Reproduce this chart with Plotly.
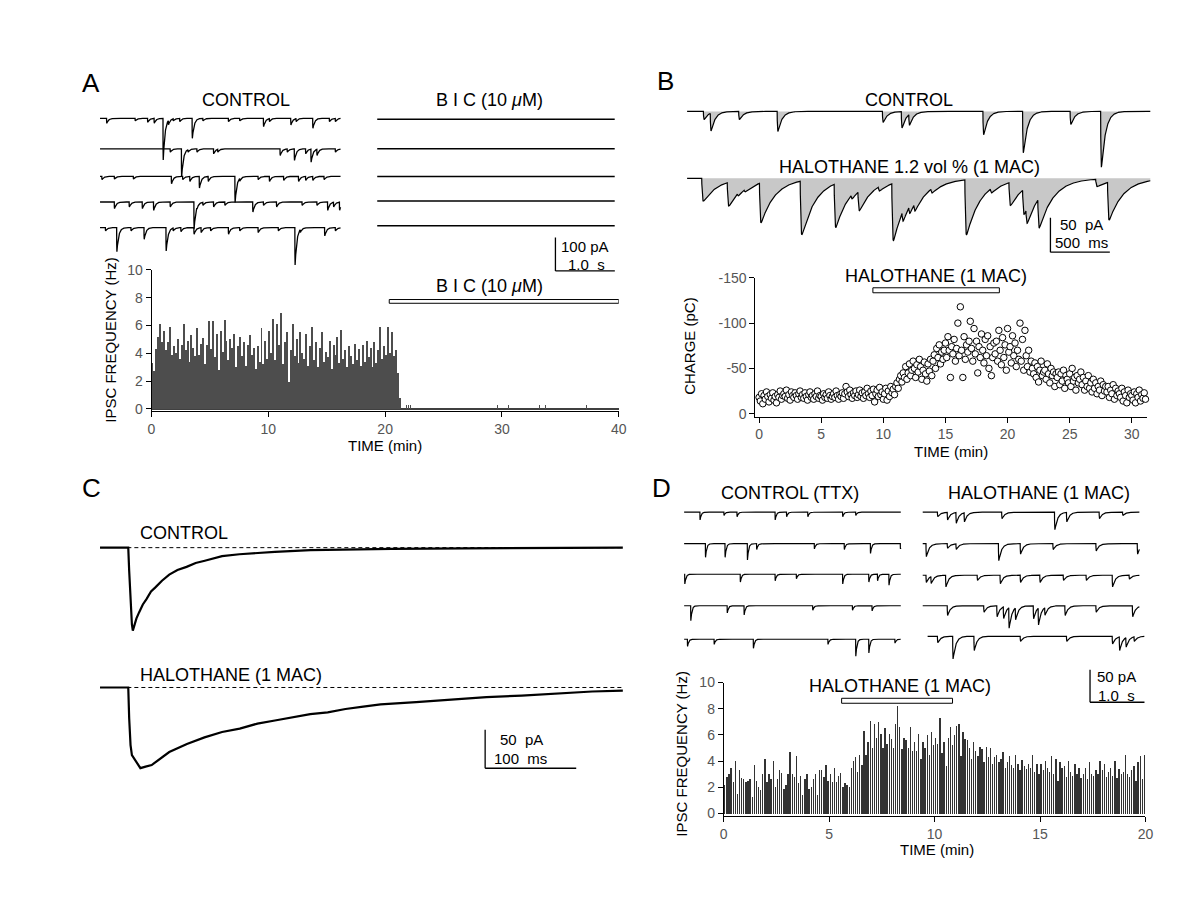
import numpy as np
import plotly.graph_objects as go

W, H = 1200, 919
FONT = "Liberation Sans, Arial, Helvetica, sans-serif"

# ======================= DATA =======================
# ---- Panel A: control sweeps, event times (s) and peak depths (pA)
a_ctrl_event_times = [
    [0.11, 0.59, 0.80, 0.91, 1.06, 1.15, 1.23, 1.34, 1.55, 1.73, 2.16, 2.35, 2.75, 2.85, 3.21, 3.30, 3.58, 3.86, 3.96],
    [1.18, 1.37, 1.48, 1.63, 1.91, 1.98, 3.03, 3.15, 3.27, 3.46, 3.55, 3.65, 3.96],
    [0.03, 0.24, 0.56, 1.20, 1.39, 1.51, 1.67, 1.82, 2.27, 2.35, 2.66, 2.85, 3.09, 3.34, 3.46, 3.58, 3.77],
    [0.24, 0.49, 0.71, 0.90, 1.18, 1.58, 1.63, 1.73, 1.91, 2.10, 2.57, 2.75, 2.97, 3.40, 3.65, 3.83, 3.93, 4.03],
    [0.09, 0.28, 0.52, 0.74, 1.11, 1.23, 1.36, 1.58, 1.70, 1.86, 2.16, 2.35, 2.66, 3.00, 3.28, 3.37, 3.78, 3.96],
]
a_ctrl_event_depths = [
    [15, 8, 12, 15, 125, 20, 8, 10, 60, 8, 10, 8, 25, 10, 20, 10, 30, 10, 10],
    [10, 84, 10, 10, 15, 10, 20, 10, 35, 15, 40, 20, 10],
    [10, 8, 8, 22, 10, 15, 35, 15, 78, 15, 10, 15, 12, 15, 12, 12, 10],
    [20, 15, 20, 25, 15, 80, 15, 10, 15, 10, 30, 10, 15, 10, 10, 25, 15, 25],
    [10, 72, 10, 35, 70, 10, 12, 20, 15, 10, 20, 10, 15, 10, 112, 15, 25, 10],
]
a_ctrl_sweep_s = 4.05
a_bic_sweep_s = 4.0
a_bic_event_times = [[], [], [], [], []]
a_bic_event_depths = [[], [], [], [], []]

a_hist_bin_min = 1.0 / 6.0
a_hist_rates = [
    3.3, 2.7, 4.3, 5.2, 6.1, 4.8,
    5.6, 4.2, 4.8, 5.9, 3.9, 4.5,
    4.0, 5.0, 3.6, 4.6, 6.1, 4.2,
    4.9, 3.4, 5.3, 4.4, 3.8, 5.8,
    3.9, 4.7, 5.1, 3.2, 4.6, 6.3,
    4.3, 6.3, 3.7, 5.4, 2.8, 5.6,
    4.1, 6.4, 4.9, 3.5, 5.0, 4.4,
    5.4, 3.0, 4.5, 5.2, 3.8, 4.8,
    3.1, 4.6, 5.3, 3.9, 4.4, 2.9,
    4.5, 3.4, 5.8, 3.2, 4.9, 3.6,
    5.6, 4.0, 6.5, 3.5, 6.1, 4.6,
    6.9, 3.2, 4.8, 5.5, 1.9, 4.2,
    6.1, 3.8, 5.0, 3.3, 5.5, 4.0,
    3.6, 5.4, 3.1, 4.5, 5.9, 3.5,
    4.8, 3.0, 4.4, 5.5, 3.4, 4.1,
    3.7, 4.9, 2.9, 4.6, 3.9, 5.2,
    3.3, 5.7, 3.6, 4.2, 3.0, 4.5,
    3.8, 3.2, 4.7, 3.5, 4.3, 3.1,
    4.6, 3.4, 4.9, 3.7, 4.4, 3.0,
    4.8, 3.3, 4.2, 5.9, 3.6, 4.5,
    3.9, 5.9, 4.0, 5.5, 3.8, 4.2,
    2.6, 0.8,
]
a_bic_blip_times = [21.7, 21.84, 22.0, 22.2, 29.4, 29.6, 30.55, 33.2, 33.7, 37.25]
a_bic_blip_rates = [0.4, 0.3, 0.3, 0.3, 0.3, 0.3, 0.25, 0.3, 0.3, 0.3]
a_bic_period = [20.35, 40.0]
a_bic_bar_level = [7.6, 7.87]
a_xticks = [0, 10, 20, 30, 40]
a_yticks = [0, 2, 4, 6, 8, 10]

# ---- Panel B: single sweeps, event times (s) and depths (pA)
b_ctrl_event_times = [0.137, 0.195, 0.434, 0.758, 1.644, 1.803, 1.866, 2.49, 2.824, 3.224, 3.481]
b_ctrl_event_depths = [12, 29, 12, 29, 16, 24, 21, 34, 60, 19, 81]
b_hal_event_times = [0.123, 0.338, 0.423, 0.48, 0.609, 0.952, 1.238, 1.38, 1.438, 1.609, 1.723, 1.809,
                     1.866, 1.909, 2.052, 2.338, 2.553, 2.709, 2.824, 2.852, 2.952, 3.439, 3.539]
b_hal_event_depths = [33, 41, 12, 10, 65, 82, 72, 19, 49, 19, 91, 44,
                      33, 33, 19, 82, 19, 40, 54, 63, 75, 12, 61]
b_sweep_s = 3.9

b_charge_step_min = 0.1
b_charge_magnitude_pc = [
    18, 14, 22, 11, 20, 16, 24, 19, 13, 21,
    17, 23, 15, 19, 12, 21, 18, 25, 16, 20,
    22, 19, 26, 17, 21, 15, 24, 20, 18, 23,
    20, 16, 22, 25, 18, 21, 17, 23, 19, 15,
    21, 24, 18, 20, 16, 22, 19, 25, 17, 20,
    19, 15, 22, 18, 21, 17, 24, 20, 16, 19,
    22, 18, 25, 20, 16, 21, 19, 23, 17, 22,
    30, 24, 19, 26, 21, 17, 23, 20, 25, 18,
    21, 26, 19, 23, 17, 24, 20, 28, 22, 18,
    25, 20, 27, 13, 22, 26, 19, 29, 21, 24,
    16, 22, 28, 15, 25, 19, 30, 23, 27, 21,
    30, 34, 28, 38, 42, 35, 45, 40, 52, 38,
    45, 55, 42, 48, 58, 50, 40, 54, 46, 60,
    52, 38, 48, 57, 44, 36, 55, 47, 60, 42,
    58, 65, 50, 72, 62, 76, 55, 68, 60, 70,
    78, 62, 85, 70, 40, 74, 66, 82, 58, 72,
    100, 64, 118, 70, 40, 85, 60, 76, 68, 80,
    102, 72, 58, 94, 66, 80, 45, 74, 62, 88,
    70, 56, 82, 64, 86, 50, 74, 42, 62, 78,
    66, 80, 58, 92, 70, 54, 84, 62, 76, 48,
    94, 68, 74, 56, 86, 64, 78, 52, 70, 60,
    100, 58, 82, 48, 92, 64, 52, 70, 46, 58,
    50, 44, 56, 40, 52, 35, 48, 58, 42, 46,
    48, 38, 55, 44, 34, 50, 42, 46, 30, 44,
    40, 46, 32, 44, 36, 48, 28, 42, 38, 34,
    44, 30, 50, 36, 40, 26, 42, 34, 38, 46,
    32, 40, 26, 36, 30, 42, 28, 34, 24, 38,
    28, 34, 22, 30, 26, 36, 20, 32, 25, 30,
    24, 30, 18, 26, 22, 32, 16, 28, 20, 25,
    22, 18, 28, 14, 24, 20, 12, 26, 18, 22,
    20, 15, 24, 12, 22, 18, 26, 14, 21, 17,
    23, 16,
]
b_halothane_period = [9.16, 19.34]
b_halothane_bar_level = [-133.5, -139.0]
b_xticks = [0, 5, 10, 15, 20, 25, 30]
b_yticks = [0, -50, -100, -150]
b_yticktext = ["0", "-50", "-100", "-150"]

# ---- Panel C: averaged IPSCs (ms, pA)
c_ctrl_time_ms = [0, 31, 32, 33.5, 35, 36, 40, 43, 47, 51, 56, 60.5, 68, 76, 85, 95, 105, 115, 134,
                  153, 172, 192, 231, 270, 320, 400, 480, 574]
c_ctrl_current_pa = [0, 0, -30, -75, -100, -108, -92, -84, -74, -67, -57, -52, -43, -35, -29, -25, -20, -17,
                     -11, -8.6, -6.8, -5.4, -3.2, -2.2, -1.5, -1.0, -0.6, 0]
c_hal_time_ms = [0, 31, 32, 33.5, 35, 37.3, 40, 44.3, 50, 56.7, 76, 95.4, 114.7, 134, 153.4, 172.8, 192,
                 211.5, 230.8, 250, 269.5, 289, 308, 347, 385.6, 424.3, 463, 502, 540.4, 574]
c_hal_current_pa = [0, 0, -40, -75, -88, -92, -97, -105, -103, -101, -84, -73.5, -65, -58, -53.5, -47, -43,
                    -39, -34.6, -32.5, -28, -25, -22, -19, -15.8, -12.6, -10.5, -7.4, -5.2, -4.0]
c_baseline_span_ms = [30, 574]

# ---- Panel D: miniature IPSC sweeps, event times (s) and depths (pA)
d_ctrl_event_times = [
    [0.29, 0.73, 0.97, 1.67, 1.88, 2.27, 2.91, 3.15],
    [0.39, 0.75, 1.16, 1.33, 2.39, 2.94, 3.42, 3.97],
    [0.01, 1.03, 1.67, 2.06, 2.91, 3.39, 3.55, 3.76],
    [0.12, 0.79, 1.10, 2.36, 3.09, 3.45],
    [0.06, 0.55, 1.27, 2.64, 3.15, 3.39, 3.87],
]
d_ctrl_event_depths = [
    [12, 5, 7, 12, 7, 7, 7, 5],
    [21, 21, 25, 9, 8, 9, 15, 8],
    [15, 12, 10, 7, 15, 12, 10, 17],
    [23, 11, 14, 7, 7, 8],
    [11, 8, 14, 8, 26, 21, 6],
]
d_hal_event_times = [
    [0.27, 0.45, 0.61, 0.76, 1.45, 2.42, 2.64, 3.24, 3.67],
    [0.06, 0.45, 0.61, 1.39, 1.79, 2.39, 3.18, 3.94],
    [0.06, 0.15, 0.42, 1.00, 1.42, 1.79, 2.15, 2.58, 3.00, 3.48, 3.79],
    [0.45, 1.12, 1.36, 1.48, 1.58, 1.70, 2.03, 2.12, 2.24, 2.61, 3.18, 3.85],
    [0.27, 0.55, 0.94, 1.79, 2.64, 3.48, 3.61, 3.73, 3.88],
]
d_hal_event_depths = [
    [7, 12, 17, 15, 10, 27, 15, 10, 5],
    [20, 7, 9, 26, 16, 9, 11, 16],
    [11, 13, 18, 8, 13, 11, 11, 8, 8, 18, 6],
    [15, 10, 17, 20, 35, 22, 20, 30, 15, 15, 10, 17],
    [10, 35, 22, 8, 8, 12, 22, 17, 8],
]
d_ctrl_sweep_s = 3.98
d_hal_sweep_span_s = [[0, 3.98], [0, 3.98], [0, 3.98], [0, 3.98], [0.09, 4.07]]

d_hist_bin_min = 0.1
d_hist_rates = [
    2.2, 2.8, 3.0, 3.5, 2.4, 4.0, 1.5, 3.3, 2.7, 2.6,
    2.4, 2.5, 2.6, 1.3, 3.7, 2.5, 2.0, 1.8, 3.0, 4.2,
    2.4, 3.0, 2.6, 4.0, 2.0, 2.6, 3.3, 3.1, 1.9, 2.2,
    3.0, 4.7, 3.0, 2.8, 4.4, 2.3, 2.9, 1.4, 2.6, 3.0,
    1.9, 2.0, 2.6, 3.0, 1.4, 3.3, 3.3, 2.8, 3.7, 2.5,
    3.0, 2.4, 3.5, 2.4, 2.9, 3.1, 2.0, 2.3, 2.2, 2.0,
    3.5, 4.0, 4.3, 3.2, 4.5, 3.7, 6.3, 4.5, 5.5, 7.1,
    5.0, 6.8, 5.8, 7.0, 6.1, 5.0, 6.5, 5.3, 6.1, 5.7,
    5.0, 6.8, 8.2, 6.6, 4.9, 5.8, 5.6, 5.0, 6.6, 4.8,
    5.5, 4.8, 6.1, 4.2, 5.5, 5.0, 6.0, 4.5, 6.2, 5.2,
    5.8, 5.3, 7.3, 4.6, 5.5, 3.6, 5.8, 6.6, 5.2, 6.0,
    6.7, 6.8, 4.4, 6.2, 5.7, 5.6, 5.0, 4.2, 5.5, 4.8,
    4.4, 5.1, 4.9, 3.9, 5.1, 4.3, 5.0, 3.8, 4.3, 4.5,
    3.9, 4.2, 4.7, 3.5, 3.9, 4.4, 3.7, 3.5, 4.5, 3.8,
    3.3, 4.1, 3.6, 3.4, 3.8, 3.5, 4.5, 3.2, 3.8, 3.0,
    3.8, 3.3, 4.0, 3.5, 3.2, 4.4, 3.0, 4.2, 2.5, 3.9,
    3.5, 3.6, 2.8, 4.0, 3.2, 2.9, 3.8, 3.0, 3.5, 2.7,
    3.0, 3.5, 2.6, 3.9, 3.0, 2.9, 3.3, 3.0, 4.0, 3.3,
    3.8, 2.8, 3.2, 3.5, 2.9, 4.0, 2.7, 3.4, 3.0, 3.2,
    4.5, 3.0, 2.8, 3.3, 3.6, 2.5, 3.9, 4.4, 2.6, 4.5,
]
d_halothane_period = [5.59, 10.85]
d_halothane_bar_level = [8.42, 8.8]
d_xticks = [0, 5, 10, 15, 20]
d_yticks = [0, 2, 4, 6, 8, 10]


# ======================= HELPERS =======================
def sweep(t, times, depths, tau, rise):
    """Sum of IPSC waveforms; each depth is the trough reached below baseline."""
    y = np.zeros_like(t)
    dd = np.linspace(0, 10 * tau, 5000)
    kmax = (np.exp(-dd / tau) - np.exp(-dd / rise)).max()
    for te, d in sorted(zip(times, depths)):
        i = min(np.searchsorted(t, te), len(t) - 1)
        cur = -y[i]
        inc = max(d - cur, 0.35 * d)
        m = t >= te
        dt = t[m] - te
        y[m] -= inc * (np.exp(-dt / tau) - np.exp(-dt / rise)) / kmax
    return y


layout = dict(width=W, height=H, margin=dict(l=0, r=0, t=0, b=0), autosize=False,
              paper_bgcolor="white", plot_bgcolor="rgba(0,0,0,0)", showlegend=False,
              font=dict(family=FONT, color="black"), shapes=[], annotations=[], bargap=0)
AX = {}


def xn(k):
    return "x" if k == 1 else f"x{k}"


def yn(k):
    return "y" if k == 1 else f"y{k}"


def add_axes(k, box, xr, yr, xopts=None, yopts=None):
    l, t, r, b = box
    xa = dict(domain=[l / W, r / W], range=xr, anchor=yn(k), visible=False, fixedrange=True,
              showgrid=False, zeroline=False)
    ya = dict(domain=[1 - b / H, 1 - t / H], range=yr, anchor=xn(k), visible=False, fixedrange=True,
              showgrid=False, zeroline=False)
    if xopts:
        xa.update(xopts)
    if yopts:
        ya.update(yopts)
    layout["xaxis" if k == 1 else f"xaxis{k}"] = xa
    layout["yaxis" if k == 1 else f"yaxis{k}"] = ya


def add_scaled_axes(k, box, ox, sx, oy, sy):
    l, t, r, b = box
    AX[k] = (ox, sx, oy, sy)
    add_axes(k, box, [(l - ox) / sx, (r - ox) / sx], [(oy - b) / sy, (oy - t) / sy])


def px_to_data(k, px, py):
    ox, sx, oy, sy = AX[k]
    return (px - ox) / sx, (oy - py) / sy


def row_offset(k, base_py):
    ox, sx, oy, sy = AX[k]
    return (oy - base_py) / sy


def scale_bar(k, corner_px, dx, dy, width=1.3):
    x0, y0 = px_to_data(k, *corner_px)
    for (xa, ya, xb, yb) in [(x0, y0, x0, y0 + dy), (x0, y0, x0 + dx, y0)]:
        layout["shapes"].append(dict(type="line", xref=xn(k), yref=yn(k), x0=xa, y0=ya, x1=xb, y1=yb,
                                     line=dict(color="black", width=width)))


def ann(text, px, py, size=15, xanchor="center", angle=0, color="black"):
    layout["annotations"].append(dict(text=text, x=px / W, y=1 - py / H, xref="paper", yref="paper",
                                      showarrow=False, xanchor=xanchor, yanchor="middle",
                                      textangle=angle, font=dict(size=size, color=color, family=FONT)))


def period_bar(k, x0, x1, y0, y1):
    layout["shapes"].append(dict(type="rect", xref=xn(k), yref=yn(k), x0=x0, x1=x1, y0=y0, y1=y1,
                                 fillcolor="white", line=dict(color="black", width=1)))


vis = dict(visible=True, showline=True, linecolor="black", linewidth=1, ticks="outside", ticklen=5,
           tickwidth=1, tickcolor="black", tickfont=dict(size=14, color="#555", family=FONT),
           showgrid=False, zeroline=False)

fig = go.Figure()
LINE = dict(color="black", width=1.3)

# ======================= PANEL A =======================
add_scaled_axes(1, (95, 90, 345, 278), 97, 60.0, 112, 0.34)
a_ctrl_rows = [112, 143, 171, 197, 223]
tA = np.arange(0, a_ctrl_sweep_s, 0.001)
for i in range(5):
    y = sweep(tA, a_ctrl_event_times[i], a_ctrl_event_depths[i], 0.03, 0.001) + row_offset(1, a_ctrl_rows[i])
    fig.add_trace(go.Scatter(x=tA, y=y, mode="lines", line=LINE, xaxis=xn(1), yaxis=yn(1), hoverinfo="skip"))

add_scaled_axes(2, (370, 95, 630, 278), 377, 60.0, 113, 0.34)
a_bic_rows = [113, 143, 171, 196, 221]
tB = np.arange(0, a_bic_sweep_s, 0.002)
for i in range(5):
    y = sweep(tB, a_bic_event_times[i], a_bic_event_depths[i], 0.03, 0.001) + row_offset(2, a_bic_rows[i])
    fig.add_trace(go.Scatter(x=tB, y=y, mode="lines", line=dict(color="black", width=1.5),
                             xaxis=xn(2), yaxis=yn(2), hoverinfo="skip"))
scale_bar(2, (557, 267), 1.0, 100)

add_axes(3, (149, 266, 621, 409), [0, 40], [-0.14, 10],
         xopts=dict(vis, tickvals=a_xticks, linewidth=1.5),
         yopts=dict(vis, tickvals=a_yticks, zeroline=True, zerolinecolor="#404040", zerolinewidth=2))
a_x = (np.arange(len(a_hist_rates)) + 0.5) * a_hist_bin_min
fig.add_trace(go.Bar(x=a_x, y=a_hist_rates, width=a_hist_bin_min, marker=dict(color="#4d4d4d", line=dict(width=0)),
                     xaxis=xn(3), yaxis=yn(3), hoverinfo="skip"))
fig.add_trace(go.Bar(x=a_bic_blip_times, y=a_bic_blip_rates, width=0.07,
                     marker=dict(color="#4d4d4d", line=dict(width=0)), xaxis=xn(3), yaxis=yn(3), hoverinfo="skip"))
period_bar(3, a_bic_period[0], a_bic_period[1], a_bic_bar_level[0], a_bic_bar_level[1])

ann("A", 88, 76, size=26)
ann("CONTROL", 244, 93, size=18)
ann("B I C (10 <i>μ</i>M)", 490, 93, size=18)
ann("100 pA", 587, 242, size=15)
ann("1.0  s", 588, 260, size=15)
ann("B I C (10 <i>μ</i>M)", 490, 282, size=18)
ann("TIME (min)", 385, 444, size=15)
ann("IPSC FREQUENCY (Hz)", 108, 337, size=15, angle=-90)

# ======================= PANEL B =======================
add_scaled_axes(4, (686, 88, 1164, 170), 690, 120.0, 105, 0.70)
add_scaled_axes(5, (686, 158, 1164, 262), 690, 120.0, 173, 0.70)
tb = np.arange(0, b_sweep_s, 0.001)
for k, times, depths, tau, rise in [(4, b_ctrl_event_times, b_ctrl_event_depths, 0.035, 0.002),
                                    (5, b_hal_event_times, b_hal_event_depths, 0.12, 0.004)]:
    y = sweep(tb, times, depths, tau, rise)
    fig.add_trace(go.Scatter(x=tb, y=np.zeros_like(tb), mode="lines", line=dict(width=0, color="rgba(0,0,0,0)"),
                             xaxis=xn(k), yaxis=yn(k), hoverinfo="skip"))
    fig.add_trace(go.Scatter(x=tb, y=y, mode="lines", line=dict(color="black", width=1.2), fill="tonexty",
                             fillcolor="#c8c8c8", xaxis=xn(k), yaxis=yn(k), hoverinfo="skip"))
scale_bar(5, (1057, 248), 0.5, 50)

x0_px, sxB = 762.7, 12.55
add_axes(6, (759, 274, 1155, 415), [(759 - x0_px) / sxB, (1155 - x0_px) / sxB], [3.3, -150],
         xopts=dict(vis, tickvals=b_xticks),
         yopts=dict(vis, tickvals=b_yticks, ticktext=b_yticktext))
b_t = np.arange(len(b_charge_magnitude_pc)) * b_charge_step_min
fig.add_trace(go.Scatter(x=b_t, y=-np.array(b_charge_magnitude_pc, dtype=float), mode="markers",
                         marker=dict(symbol="circle", size=6.5, color="white", line=dict(color="black", width=1)),
                         xaxis=xn(6), yaxis=yn(6), hoverinfo="skip", cliponaxis=False))
period_bar(6, b_halothane_period[0], b_halothane_period[1], b_halothane_bar_level[0], b_halothane_bar_level[1])

ann("B", 668, 74, size=26)
ann("CONTROL", 914, 93, size=18)
ann("HALOTHANE 1.2 vol % (1 MAC)", 915, 161, size=18)
ann("50  pA", 1088, 220, size=15)
ann("500  ms", 1088, 238, size=15)
ann("HALOTHANE (1 MAC)", 941, 272, size=18)
ann("CHARGE (pC)", 693, 343, size=15, angle=-90)
ann("TIME (min)", 957, 450, size=15)

# ======================= PANEL C =======================
add_scaled_axes(7, (93, 515, 632, 792), 97, 0.92, 548, 0.78)
c_hal_off = row_offset(7, 690)
for tt, yy, off in [(c_ctrl_time_ms, c_ctrl_current_pa, 0.0), (c_hal_time_ms, c_hal_current_pa, c_hal_off)]:
    fig.add_trace(go.Scatter(x=tt, y=np.array(yy) + off, mode="lines", line=dict(color="black", width=2.2),
                             xaxis=xn(7), yaxis=yn(7), hoverinfo="skip"))
    layout["shapes"].append(dict(type="line", xref=xn(7), yref=yn(7), x0=c_baseline_span_ms[0],
                                 x1=c_baseline_span_ms[1], y0=off, y1=off,
                                 line=dict(color="black", width=1, dash="4px,3px")))
scale_bar(7, (486, 772), 100, 50)

ann("C", 88, 487, size=26)
ann("CONTROL", 135, 533, size=18, xanchor="left")
ann("HALOTHANE (1 MAC)", 135, 677, size=18, xanchor="left")
ann("50  pA", 523, 743, size=15)
ann("100  ms", 522, 762, size=15)

# ======================= PANEL D =======================
add_scaled_axes(8, (682, 495, 912, 665), 687, 55.0, 512, 0.66)
d_ctrl_rows = [512, 544, 575, 607, 641]
td = np.arange(0, d_ctrl_sweep_s, 0.001)
for i in range(5):
    y = sweep(td, d_ctrl_event_times[i], d_ctrl_event_depths[i], 0.02, 0.001) + row_offset(8, d_ctrl_rows[i])
    fig.add_trace(go.Scatter(x=td, y=y, mode="lines", line=dict(color="black", width=1.2),
                             xaxis=xn(8), yaxis=yn(8), hoverinfo="skip"))

add_scaled_axes(9, (922, 495, 1162, 712), 928, 55.0, 512, 0.66)
d_hal_rows = [512, 544, 576, 607, 638]
for i in range(5):
    th = np.arange(d_hal_sweep_span_s[i][0], d_hal_sweep_span_s[i][1], 0.001)
    y = sweep(th, d_hal_event_times[i], d_hal_event_depths[i], 0.05, 0.002) + row_offset(9, d_hal_rows[i])
    fig.add_trace(go.Scatter(x=th, y=y, mode="lines", line=dict(color="black", width=1.2),
                             xaxis=xn(9), yaxis=yn(9), hoverinfo="skip"))
scale_bar(9, (1097, 705), 1.0, 50)

add_axes(10, (727, 685, 1153, 820), [0, 20], [-0.15, 10],
         xopts=dict(vis, tickvals=d_xticks, linewidth=1.5),
         yopts=dict(vis, tickvals=d_yticks))
d_x = (np.arange(len(d_hist_rates)) + 0.5) * d_hist_bin_min
fig.add_trace(go.Bar(x=d_x, y=d_hist_rates, width=0.065, marker=dict(color="#333333", line=dict(width=0)),
                     xaxis=xn(10), yaxis=yn(10), hoverinfo="skip"))
period_bar(10, d_halothane_period[0], d_halothane_period[1], d_halothane_bar_level[0], d_halothane_bar_level[1])

ann("D", 664, 487, size=26)
ann("CONTROL (TTX)", 794, 493, size=18)
ann("HALOTHANE (1 MAC)", 1045, 493, size=18)
ann("50 pA", 1124, 679, size=15)
ann("1.0  s", 1124, 698, size=15)
ann("HALOTHANE (1 MAC)", 905, 688, size=18)
ann("IPSC FREQUENCY (Hz)", 684, 757, size=15, angle=-90)
ann("TIME (min)", 942, 855, size=15)

fig.update_layout(**layout)
fig.write_html("out.html", config={"displayModeBar": False, "staticPlot": True},
               post_script="document.body.style.margin='0px';document.body.style.overflow='hidden';")
